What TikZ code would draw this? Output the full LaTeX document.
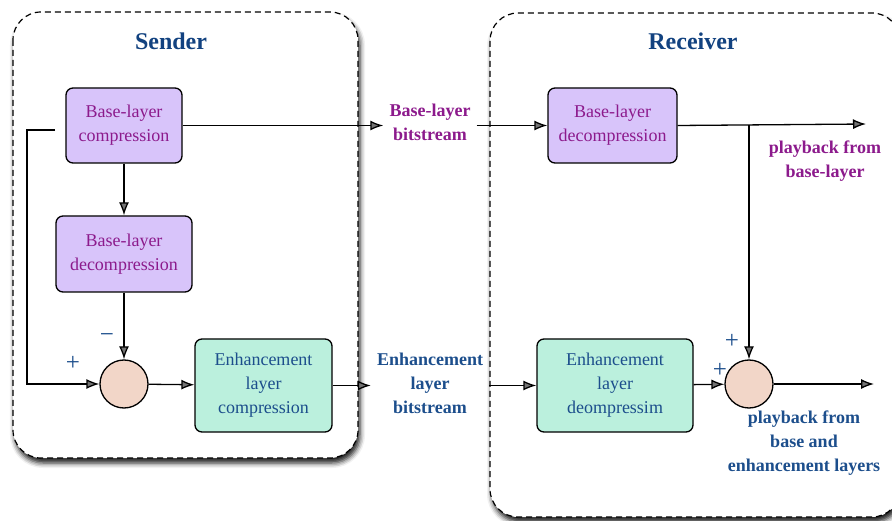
\documentclass[tikz,border=0pt]{standalone}
\usepackage{fontspec}
\setmainfont{Liberation Serif}
\usetikzlibrary{arrows.meta,shadows.blur}

\definecolor{boxpurple}{RGB}{216,196,250}
\definecolor{txtpurple}{RGB}{140,26,140}
\definecolor{boxgreen}{RGB}{187,240,221}
\definecolor{txtblue}{RGB}{28,78,140}
\definecolor{titleblue}{RGB}{18,66,128}
\definecolor{sumfill}{RGB}{242,214,200}

\tikzset{
  panel/.style={draw, dash pattern=on 6pt off 4pt, line width=1.2pt, rounded corners=28pt, fill=white,
    blur shadow={shadow xshift=2pt, shadow yshift=-5pt, shadow blur radius=5pt, shadow opacity=90}},
  paneltitle/.style={text=titleblue, font=\fontsize{24}{28}\selectfont\bfseries},
  baseblock/.style={draw, line width=1.3pt, rounded corners=7pt, fill=boxpurple, text=txtpurple,
    align=center, inner sep=0pt, font=\fontsize{18}{24}\selectfont},
  enhblock/.style={baseblock, fill=boxgreen, text=txtblue},
  summer/.style={draw, circle, line width=1.3pt, fill=sumfill, minimum size=48pt, inner sep=0pt},
  streamlabel/.style={align=center, inner sep=6pt, font=\fontsize{18}{24}\selectfont\bfseries},
  sign/.style={text=txtblue, inner sep=0pt, font=\fontsize{25}{25}\selectfont},
  arr/.style={-{Latex[length=13pt,width=10pt]}, line width=1.3pt},
}

\begin{document}
\begin{tikzpicture}[x=1pt, y=-1pt]
  \clip (0,0) rectangle (892,521);

  % the two panels
  \draw[panel] (13,12) rectangle (358,458);
  \draw[panel] (490,13) rectangle (900,517);
  \node[paneltitle] (sendertitle) at (171,41) {Sender};
  \node[paneltitle] (receivertitle) at (693,41) {Receiver};

  % sender
  \node[baseblock, minimum width=116pt, minimum height=75pt] (bc) at (124,125.5) {Base-layer\\compression};
  \node[baseblock, minimum width=136pt, minimum height=76pt] (bd) at (124,254) {Base-layer\\decompression};
  \node[summer] (sum1) at (124,384) {};
  \node[enhblock, minimum width=137pt, minimum height=93pt] (ec) at (263.5,385.5) {Enhancement\\layer\\compression};
  \node[sign] (plus1) at (73,363) {+};
  \node[sign] (minus1) at (107,338) {−};

  % bitstreams
  \node[streamlabel, text=txtpurple] (bl) at (430,122) {Base-layer\\bitstream};
  \node[streamlabel, text=txtblue] (el) at (430,383) {Enhancement\\layer\\bitstream};

  % receiver
  \node[baseblock, minimum width=129pt, minimum height=75pt] (rbd) at (612.5,125.5) {Base-layer\\decompression};
  \node[enhblock, minimum width=156pt, minimum height=93pt] (ed) at (615,385.5) {Enhancement\\layer\\deompressim};
  \node[summer] (sum2) at (749,384) {};
  \node[sign] (plus2) at (732,341) {+};
  \node[sign] (plus3) at (720,370) {+};
  \node[streamlabel, text=txtpurple] (pb1) at (825,161) {playback from\\base-layer};
  \node[streamlabel, text=txtblue] (pb2) at (804,443) {playback from\\base and\\enhancement layers};
  \coordinate (out1) at (866,124);
  \coordinate (out2) at (874,384);
  \coordinate (fbstart) at (55,130);

  % connectors
  \draw[arr] (bc.east) -- (bc.east -| bl.west);
  \draw[arr] (bl.east |- rbd.west) -- (rbd.west);
  \draw[arr] (bc) -- (bd);
  \draw[arr] (bd) -- (sum1);
  \draw[arr] (fbstart) -- ++(-28,0) |- (sum1.west);
  \draw[arr] (sum1) -- (ec);
  \draw[arr] (ec.east) -- (ec.east -| el.west);
  \draw[arr] (el.east |- ed.west) -- (ed.west);
  \draw[arr] (rbd.east) -- (out1);
  \draw[arr] (rbd.east -| sum2.north) -- (sum2.north);
  \draw[arr] (ed) -- (sum2);
  \draw[arr] (sum2) -- (out2);
\end{tikzpicture}
\end{document}
